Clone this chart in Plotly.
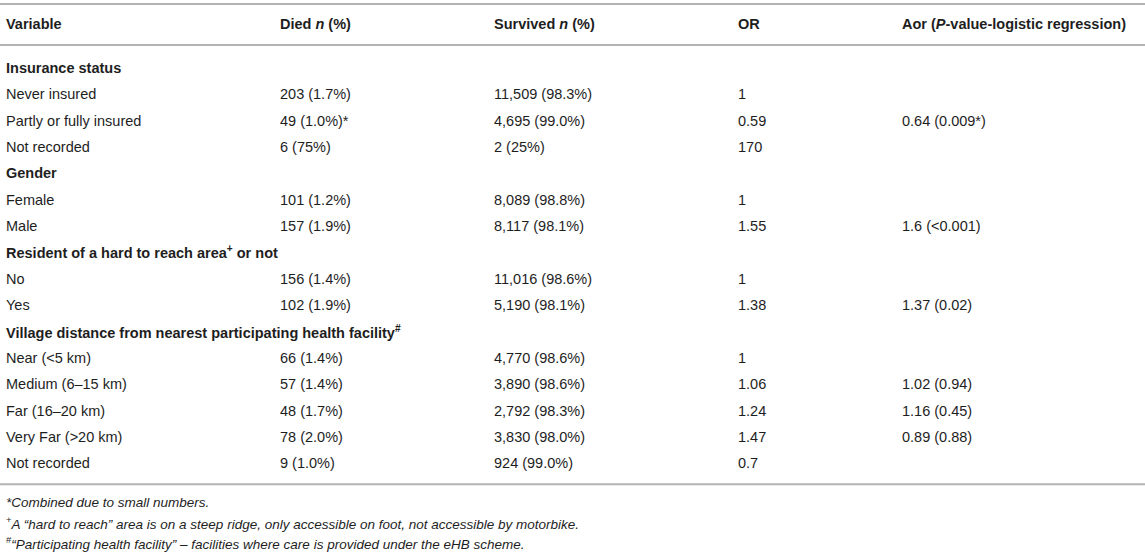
import plotly.graph_objects as go

headers = ["<b>Variable</b>", "<b>Died <i>n</i> (%)</b>", "<b>Survived <i>n</i> (%)</b>",
           "<b>OR</b>", "<b>Aor (<i>P</i>-value-logistic regression)</b>"]

variables = [
    "<b>Insurance status</b>", "Never insured", "Partly or fully insured", "Not recorded",
    "<b>Gender</b>", "Female", "Male",
    "<b>Resident of a hard to reach area<sup>+</sup> or not</b>", "No", "Yes",
    "<b>Village distance from nearest participating health facility<sup>#</sup></b>",
    "Near (&lt;5 km)", "Medium (6–15 km)", "Far (16–20 km)", "Very Far (&gt;20 km)", "Not recorded",
]
died = ["", "203 (1.7%)", "49 (1.0%)*", "6 (75%)",
        "", "101 (1.2%)", "157 (1.9%)",
        "", "156 (1.4%)", "102 (1.9%)",
        "", "66 (1.4%)", "57 (1.4%)", "48 (1.7%)", "78 (2.0%)", "9 (1.0%)"]
survived = ["", "11,509 (98.3%)", "4,695 (99.0%)", "2 (25%)",
            "", "8,089 (98.8%)", "8,117 (98.1%)",
            "", "11,016 (98.6%)", "5,190 (98.1%)",
            "", "4,770 (98.6%)", "3,890 (98.6%)", "2,792 (98.3%)", "3,830 (98.0%)", "924 (99.0%)"]
odds_ratio = ["", "1", "0.59", "170",
              "", "1", "1.55",
              "", "1", "1.38",
              "", "1", "1.06", "1.24", "1.47", "0.7"]
aor = ["", "", "0.64 (0.009*)", "",
       "", "", "1.6 (&lt;0.001)",
       "", "", "1.37 (0.02)",
       "", "", "1.02 (0.94)", "1.16 (0.45)", "0.89 (0.88)", ""]

footnotes = [
    "<i>*Combined due to small numbers.</i>",
    "<sup>+</sup><i>A “hard to reach” area is on a steep ridge, only accessible on foot, not accessible by motorbike.</i>",
    "<sup>#</sup><i>“Participating health facility” – facilities where care is provided under the eHB scheme.</i>",
]

W, H = 1145, 553
col_x = [4, 278, 492, 736, 900]
header_y = 24
row_y0 = 68
row_h = 26.35
foot_y0 = 502
foot_h = 20.5
text_color = "#1e1e1e"
line_color = "#b3b3b3"
FONT = "Liberation Sans"
FS = 14.5
FS_FOOT = 13.5

fig = go.Figure()
fig.add_trace(go.Scatter(x=[0, W], y=[0, H], mode="markers", marker=dict(opacity=0),
                         hoverinfo="skip", showlegend=False))

annotations = []
def add(x, y, text, size=FS):
    annotations.append(dict(x=x, y=y, xref="x", yref="y", text=text, showarrow=False,
                            xanchor="left", yanchor="middle", align="left",
                            font=dict(family=FONT, size=size, color=text_color)))

for cx, h in zip(col_x, headers):
    add(cx, header_y, h)

columns = [variables, died, survived, odds_ratio, aor]
for cx, col in zip(col_x, columns):
    for i, t in enumerate(col):
        if t:
            add(cx, row_y0 + i * row_h, t)

for i, t in enumerate(footnotes):
    add(col_x[0], foot_y0 + i * foot_h, t, size=FS_FOOT)

bottom_line = row_y0 + (len(variables) - 1) * row_h + 21
shapes = []
for ly in [4, 45, bottom_line]:
    shapes.append(dict(type="line", xref="x", yref="y", x0=0, x1=W, y0=ly, y1=ly,
                       line=dict(color=line_color, width=2)))

fig.update_layout(
    width=W, height=H, margin=dict(l=0, r=0, t=0, b=0),
    paper_bgcolor="white", plot_bgcolor="white",
    xaxis=dict(range=[0, W], visible=False, fixedrange=True),
    yaxis=dict(range=[H, 0], visible=False, fixedrange=True),
    annotations=annotations, shapes=shapes, showlegend=False,
)
fig.write_html("out.html", config={"displayModeBar": False},
               post_script="document.body.style.margin='0';document.body.style.overflow='hidden';")
